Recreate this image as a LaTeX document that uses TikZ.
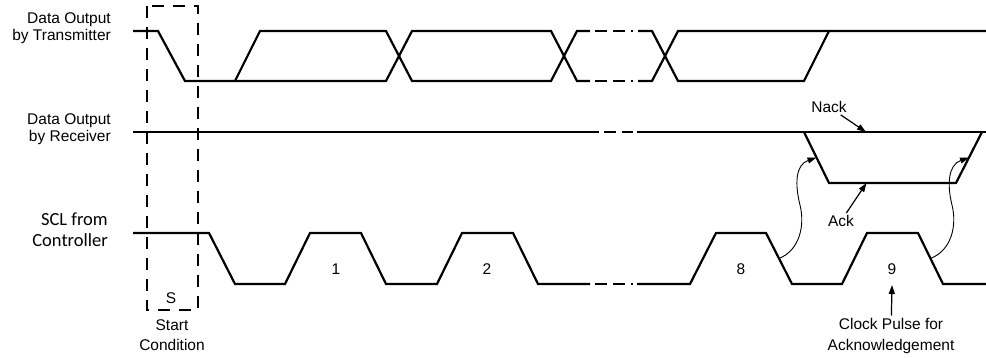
\documentclass[tikz,border=0pt]{standalone}
\usepackage{fontspec}
\setmainfont{Liberation Sans}
\newfontfamily\calfont{Carlito}
\usepackage{tikz}
\usetikzlibrary{arrows.meta,calc}

\begin{document}
\begin{tikzpicture}[
    x=1pt, y=-1pt,
    wave/.style={line width=2.2pt, line join=miter},
    gap/.style={line width=2.2pt, dash pattern=on 12pt off 6pt},
    startbox/.style={line width=1.5pt, dash pattern=on 12pt off 9pt},
    arrow/.style={-{Triangle[length=9pt,width=6pt]}, line width=1.2pt},
    curvy/.style={-{Triangle[length=9pt,width=6pt]}, line width=0.9pt},
    lbl/.style={font=\fontsize{15.5}{17}\selectfont, align=right, inner sep=0pt},
    txt/.style={font=\fontsize{15.5}{20}\selectfont, align=center, inner sep=2pt}
]
    \useasboundingbox (0,0) rectangle (986,358);

    \node[lbl, anchor=east] (tx) at (111,28.5) {Data Output\\by Transmitter};
    \node[lbl, anchor=east] (rx) at (111,129) {Data Output\\by Receiver};
    \node[lbl, anchor=east, font=\calfont\fontsize{18.5}{21}\selectfont] (scl) at (108,230) {SCL from\\Controller};

    % transmitter
    \draw[wave] (133,31) -- (158,31) -- (185,81) -- (386,81) -- (412,31) -- (551,31) -- (577,81) -- (590,81);
    \draw[wave] (235,81) -- (260,31) -- (386,31) -- (412,81) -- (551,81) -- (577,31) -- (590,31);
    \draw[gap] (595,31) -- (633,31);
    \draw[gap] (595,81) -- (633,81);
    \draw[wave] (638,31) -- (652,31) -- (678,81) -- (804,81) -- (829,31) -- (986,31);
    \draw[wave] (638,81) -- (652,81) -- (678,31) -- (829,31);

    % receiver
    \coordinate (ack1) at (804,132);
    \coordinate (ack2) at (829,183);
    \coordinate (ack3) at (956,183);
    \coordinate (ack4) at (982,132);
    \draw[wave] (133,132) -- (599,132);
    \draw[gap] (604,132) -- (633,132);
    \draw[wave] (637,132) -- (986,132);
    \draw[wave] (ack1) -- (ack2) -- (ack3) -- (ack4);

    % scl
    \draw[wave] (133,233) -- (209,233) -- (235,284) -- (285,284) -- (310,233) -- (361,233) -- (386,284) -- (437,284)
        -- (462,233) -- (513,233) -- (538,284) -- (590,284);
    \draw[gap] (595,284) -- (633,284);
    \draw[wave] (637,284) -- (690,284) -- (716,233) -- (766,233) -- (792,284) -- (842,284) -- (867,233) -- (918,233)
        -- (943,284) -- (986,284);
    \coordinate (edge8) at (779,258.5);
    \coordinate (edge9) at (930.5,258.5);

    \draw[startbox] (147,6) rectangle (198,310);
    \node[txt] (s) at (171,298) {S};
    \node[txt] (start) at (172,335) {Start\\Condition};

    \node[txt] (p1) at (336,269) {1};
    \node[txt] (p2) at (487,269) {2};
    \node[txt] (p8) at (741,269) {8};
    \node[txt] (p9) at (892,269) {9};

    \node[txt] (nack) at (829,107) {Nack};
    \node[txt] (ack) at (841,221) {Ack};
    \node[txt, font=\fontsize{15.5}{21}\selectfont] (clock) at (891,335.5) {Clock Pulse for\\Acknowledgement};

    \coordinate (nackpt) at (866,132);
    \coordinate (ackpt) at (866.5,183);
    \coordinate (clockpt) at (892,285);
    \coordinate (fall) at ($(ack1)!0.5!(ack2)$);
    \coordinate (rise) at ($(ack3)!0.5!(ack4)$);

    \draw[arrow] (nack) -- (nackpt);
    \draw[arrow] (ack) -- (ackpt);
    \draw[arrow] (clock) -- (clockpt);
    \draw[curvy] (edge8) .. controls (800,250) and (805,225) .. (800,205) .. controls (795,185) and (795,165) .. (fall);
    \draw[curvy] (edge9) .. controls (952,250) and (957,225) .. (952,205) .. controls (947,185) and (948,165) .. (rise);
\end{tikzpicture}
\end{document}
